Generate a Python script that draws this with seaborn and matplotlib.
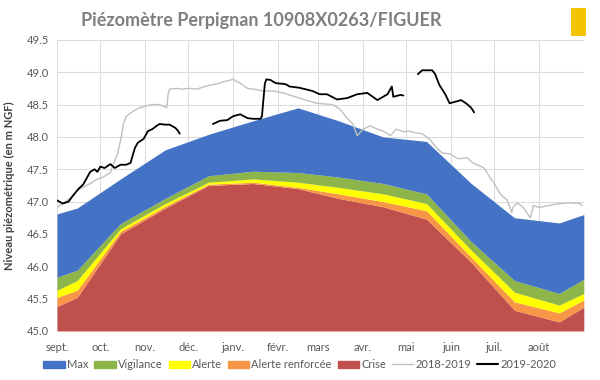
import numpy as np
import pandas as pd
import matplotlib
matplotlib.use("Agg")
import matplotlib.pyplot as plt
from matplotlib.patches import Patch, Rectangle
from matplotlib.lines import Line2D
import seaborn as sns

# --- seuils (jours depuis le 1er sept.) ---
seuil_jours = [0, 14, 44, 75, 105, 136, 167, 195, 226, 256, 287, 317, 348, 365]
crise = [45.38, 45.52, 46.50, 46.90, 47.25, 47.28, 47.20, 47.05, 46.92, 46.73, 46.06, 45.32, 45.14, 45.37]
alerte_renf = [45.52, 45.63, 46.54, 46.93, 47.27, 47.30, 47.22, 47.12, 47.00, 46.86, 46.14, 45.45, 45.28, 45.48]
alerte = [45.63, 45.78, 46.58, 46.97, 47.30, 47.35, 47.30, 47.22, 47.12, 46.97, 46.25, 45.60, 45.40, 45.58]
vigilance = [45.83, 45.94, 46.66, 47.05, 47.40, 47.47, 47.45, 47.38, 47.28, 47.12, 46.38, 45.78, 45.58, 45.80]
maxi = [46.81, 46.90, 47.35, 47.80, 48.04, 48.25, 48.45, 48.25, 48.00, 47.93, 47.28, 46.75, 46.67, 46.80]

# --- chroniques ---
jours_1819 = [0, 4, 9, 14, 18, 23, 28, 32, 37, 39, 42, 44, 46, 48, 53, 57, 62, 66, 71, 76, 77, 78,
              83, 87, 92, 97, 101, 106, 111, 115, 122, 127, 132, 136, 143, 150, 157, 161, 168, 180,
              191, 196, 201, 205, 208, 212, 217, 222, 226, 231, 235, 240, 244, 249, 253, 258, 263,
              267, 272, 278, 284, 288, 293, 296, 300, 303, 307, 312, 315, 316, 319, 323, 328, 330,
              334, 341, 348, 355, 362, 364]
niv_1819 = [46.91, 46.97, 47.05, 47.17, 47.22, 47.28, 47.35, 47.38, 47.45, 47.58, 47.74, 47.94,
            48.20, 48.32, 48.40, 48.45, 48.48, 48.50, 48.50, 48.45, 48.66, 48.74, 48.75, 48.74,
            48.75, 48.74, 48.77, 48.80, 48.82, 48.85, 48.89, 48.83, 48.75, 48.74, 48.71, 48.71,
            48.68, 48.65, 48.60, 48.52, 48.50, 48.43, 48.29, 48.20, 48.02, 48.12, 48.17, 48.12,
            48.09, 48.02, 48.12, 48.08, 48.09, 48.06, 48.05, 47.97, 47.83, 47.75, 47.74, 47.66,
            47.68, 47.60, 47.55, 47.52, 47.37, 47.28, 47.12, 47.02, 46.83, 46.91, 46.98, 46.91,
            46.75, 46.94, 46.91, 46.94, 46.97, 46.98, 46.97, 46.94]

jours_1920 = [0, 4, 8, 11, 15, 18, 21, 23, 26, 28, 30, 33, 37, 40, 44, 48, 51, 52, 54, 56, 60, 63,
              66, 69, 71, 75, 78, 82, 84, 85,
              108, 113, 118, 122, 127, 132, 136, 141, 142, 144, 145, 148, 150, 152, 157, 159, 161,
              168, 177, 182, 187, 194, 201, 208, 215, 222, 229, 232, 233, 238, 240,
              250, 253, 260, 262, 265, 269, 272, 277, 280, 284, 287, 289]
niv_1920 = [47.02, 46.97, 47.00, 47.09, 47.20, 47.26, 47.38, 47.46, 47.50, 47.46, 47.54, 47.52,
            47.58, 47.52, 47.57, 47.57, 47.60, 47.68, 47.83, 47.91, 47.97, 48.09, 48.12, 48.17,
            48.20, 48.19, 48.19, 48.14, 48.09, 48.05,
            48.20, 48.25, 48.26, 48.32, 48.35, 48.29, 48.28, 48.28, 48.32, 48.82, 48.89, 48.88,
            48.85, 48.83, 48.82, 48.81, 48.78, 48.76, 48.71, 48.66, 48.66, 48.58, 48.60, 48.66,
            48.68, 48.57, 48.66, 48.78, 48.62, 48.65, 48.64,
            48.97, 49.03, 49.03, 48.97, 48.80, 48.66, 48.52, 48.55, 48.57, 48.51, 48.45, 48.38]
segments_1920 = [0] * 30 + [1] * 31 + [2] * 12

mois = ["sept.", "oct.", "nov.", "déc.", "janv.", "févr.", "mars", "avr.", "mai", "juin", "juil.", "août"]
debut_mois = [0, 30, 61, 91, 122, 153, 181, 212, 242, 273, 303, 334]

c_max, c_vig, c_al, c_ar, c_cr = "#4472C4", "#8DB54A", "#FFFF00", "#F79646", "#C0504D"
gris_txt = "#595959"

sns.set_theme(style="whitegrid")
plt.rcParams["font.family"] = ["Lato", "DejaVu Sans"]

fig = plt.figure(figsize=(6, 3.8), dpi=100)
ax = fig.add_axes([0.095, 0.129, 0.878, 0.766])

# bandes de seuils empilées
ax.fill_between(seuil_jours, 45.0, crise, color=c_cr, lw=0, zorder=2)
ax.fill_between(seuil_jours, crise, alerte_renf, color=c_ar, lw=0, zorder=2)
ax.fill_between(seuil_jours, alerte_renf, alerte, color=c_al, lw=0, zorder=2)
ax.fill_between(seuil_jours, alerte, vigilance, color=c_vig, lw=0, zorder=2)
ax.fill_between(seuil_jours, vigilance, maxi, color=c_max, lw=0, zorder=2)

df18 = pd.DataFrame({"jour": jours_1819, "niveau": niv_1819})
df19 = pd.DataFrame({"jour": jours_1920, "niveau": niv_1920, "seg": segments_1920})
sns.lineplot(data=df18, x="jour", y="niveau", color="#C0C0C0", lw=1.0, ax=ax, zorder=3)
sns.lineplot(data=df19, x="jour", y="niveau", units="seg", estimator=None,
             color="black", lw=1.3, ax=ax, zorder=4)

ax.set_xlim(0, 365)
ax.set_ylim(45.0, 49.5)
ax.set_yticks(np.arange(45.0, 49.51, 0.5))
ax.set_yticklabels([f"{v:.1f}" for v in np.arange(45.0, 49.51, 0.5)])
ax.set_xticks(debut_mois)
ax.set_xticklabels(mois)
ax.tick_params(axis="both", labelsize=8, colors=gris_txt, length=0)
ax.tick_params(axis="x", pad=8)
ax.tick_params(axis="y", pad=6)
ax.grid(True, color="#DDDDDD", lw=0.8)
ax.set_facecolor("white")
for s in ax.spines.values():
    s.set_visible(False)
ax.set_xlabel("")
ax.set_ylabel("Niveau piézométrique (en m NGF)", fontsize=8, fontweight="bold", color="#404040", labelpad=8)

fig.text(0.435, 0.945, "Piézomètre Perpignan 10908X0263/FIGUER", ha="center", va="center",
         fontsize=13, fontweight="bold", color="#7F7F7F")

# petit logo
fig.patches.append(Rectangle((0.952, 0.905), 0.025, 0.075, transform=fig.transFigure,
                             facecolor="#F5C400", edgecolor="none"))

handles = [Patch(color=c_max), Patch(color=c_vig), Patch(color=c_al), Patch(color=c_ar), Patch(color=c_cr),
           Line2D([], [], color="#C0C0C0", lw=1.0), Line2D([], [], color="black", lw=1.5)]
labels = ["Max", "Vigilance", "Alerte", "Alerte renforcée", "Crise", "2018-2019", "2019-2020"]
fig.legend(handles, labels, loc="center", bbox_to_anchor=(0.5, 0.04), ncol=7, frameon=False,
           fontsize=8, labelcolor=gris_txt, handlelength=1.9, handleheight=0.7,
           handletextpad=0.2, columnspacing=0.55)

fig.savefig("out.png", dpi=100)
